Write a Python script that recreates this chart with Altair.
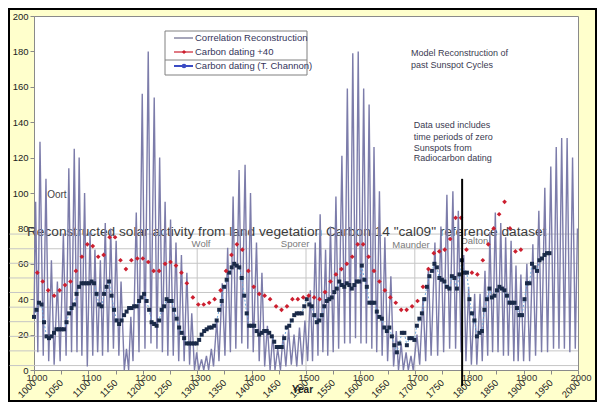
import altair as alt
import pandas as pd

# ---------------- data ----------------
# Correlation Reconstruction: cycle maxima and the minima between them
peak_years = [1003,1011,1022,1032,1043,1054,1064,1074,1083,1093, 1103,1112,1122,1131,1141,1151,1160,1170,1178,1188,
              1199,1210,1221,1231,1241,1251,1261,1271,1281,1290, 1299,1308,1317,1326,1336,1346,1356,1366,1377,1388,
              1398,1409,1419,1429,1439,1448,1458,1468,1478,1488, 1498,1508,1517,1526,1536,1545,1555,1566,1576,1586,
              1596,1606,1616,1625,1635,1645,1656,1666,1675,1684, 1693,1704,1715,1725,1737,1748,1759,1770,1780,1790,
              1799,1810,1820,1829,1838,1848,1858,1867,1877,1886, 1895,1906,1917,1928,1939,1950,1960,1970,1980,1990,
              1999]
peak_vals = [95,129,108,62,50,77,114,125,120,100, 78,68,62,83,80,73,50,12,30,89,
             156,180,154,120,95,85,72,65,55,32, 10,6,8,12,28,49,69,98,113,116,
             100,72,55,25,20,12,20,23,20,24, 28,45,72,88,68,81,98,121,159,179,
             180,159,150,126,101,75,53,22,15,10, 8,20,41,58,72,81,99,101,90,65,
             47,43,43,56,78,89,83,75,73,59, 54,60,71,90,103,115,126,131,131,120,
             80]
trough_years = [1007,1017,1027,1037,1048,1059,1069,1079,1088,1098, 1108,1117,1126,1136,1146,1156,1166,1174,1182,1193,
                1204,1215,1226,1236,1246,1256,1266,1276,1286,1295, 1303,1312,1321,1330,1340,1351,1361,1371,1382,1393,
                1403,1414,1424,1434,1443,1453,1463,1473,1483,1493, 1503,1512,1522,1531,1540,1550,1560,1571,1581,1591,
                1601,1611,1621,1630,1640,1650,1661,1670,1679,1688, 1697,1709,1720,1730,1742,1753,1764,1775,1785,1794,
                1804,1814,1824,1834,1843,1853,1863,1872,1882,1890, 1900,1911,1922,1933,1944,1955,1965,1975,1985,1995]
trough_vals = [10,8,5,3,5,8,10,10,8,2, 8,10,8,10,12,8,0,0,5,10,
               12,15,12,10,8,8,5,5,3,0, 0,0,0,2,5,8,10,12,15,12,
               10,5,2,0,0,0,2,3,2,3, 5,5,8,10,8,10,12,15,15,18,
               15,15,12,10,8,5,2,0,0,0, 0,3,5,8,8,10,12,12,10,5,
               3,3,5,8,10,10,8,8,5,5, 5,5,8,10,10,12,12,12,10,12]
start_year, start_val = 1000, 30

# Carbon dating (T. Channon)
blue_years = [
    1000.0,1004.6,1009.2,1013.8,1018.4, 1023.0,1027.6,1032.2,1036.8,1041.4,
    1046.0,1050.6,1055.2,1059.8,1064.4, 1069.0,1073.6,1078.2,1082.8,1087.4,
    1092.0,1096.6,1101.2,1105.8,1110.4, 1115.0,1119.6,1124.2,1128.8,1133.4,
    1138.0,1142.6,1147.2,1151.8,1156.4, 1161.0,1165.6,1170.2,1174.8,1179.4,
    1184.0,1188.6,1193.2,1197.8,1202.4, 1207.0,1211.6,1216.2,1220.8,1225.4,
    1230.0,1234.6,1239.2,1243.8,1248.4, 1253.0,1257.6,1262.2,1266.8,1271.4,
    1276.0,1280.6,1285.2,1289.8,1294.4, 1299.0,1303.6,1308.2,1312.8,1317.4,
    1322.0,1326.6,1331.2,1335.8,1340.4, 1345.0,1349.6,1354.2,1358.8,1363.4,
    1368.0,1372.6,1377.2,1381.8,1386.4, 1391.0,1395.6,1400.2,1404.8,1409.4,
    1414.0,1418.6,1423.2,1427.8,1432.4, 1437.0,1441.6,1446.2,1450.8,1455.4,
    1460.0,1464.6,1469.2,1473.8,1478.4, 1483.0,1487.6,1492.2,1496.8,1501.4,
    1506.0,1510.6,1515.2,1519.8,1524.4, 1529.0,1533.6,1538.2,1542.8,1547.4,
    1552.0,1556.6,1561.2,1565.8,1570.4, 1575.0,1579.6,1584.2,1588.8,1593.4,
    1598.0,1602.6,1607.2,1611.8,1616.4, 1621.0,1625.6,1630.2,1634.8,1639.4,
    1644.0,1648.6,1653.2,1657.8,1662.4, 1667.0,1671.6,1676.2,1680.8,1685.4,
    1690.0,1694.6,1699.2,1703.8,1708.4, 1713.0,1717.6,1722.2,1726.8,1731.4,
    1736.0,1740.6,1745.2,1749.8,1754.4, 1759.0,1763.6,1768.2,1772.8,1777.4,
    1782.0,1786.6,1791.2,1795.8,1800.4, 1805.0,1809.6,1814.2,1818.8,1823.4,
    1828.0,1832.6,1837.2,1841.8,1846.4, 1851.0,1855.6,1860.2,1864.8,1869.4,
    1874.0,1878.6,1883.2,1887.8,1892.4, 1897.0,1901.6,1906.2,1910.8,1915.4,
    1920.0,1924.6,1929.2,1933.8,1938.4, 1943.0,1947.6]
blue_vals = [
    30,34,38,37,27,19,18,19,21,23, 23,23,23,27,32,35,37,43,47,49,
    49,49,49,50,49,43,37,36,43,47, 50,42,34,28,26,28,31,33,35,35,
    36,36,39,41,43,39,34,27,26,25, 28,34,36,40,39,39,34,29,24,21,
    18,15,15,15,15,15,17,20,22,23, 24,24,25,28,34,39,47,51,55,58,
    60,59,58,52,42,32,25,25,25,22, 20,21,22,22,21,19,16,13,13,13,
    18,24,25,28,31,32,32,
    32,36,40,37,36,31,27,28,31,36, 39,40,41,44,46,50,48,47,49,48,
    46,48,50,50,59,51,47,38,38,38, 33,30,29,24,22,24,19,14,10,15,
    21,21,14,18,18,17,25,29,32,40, 47,53,56,60,58,52,51,50,47,46,
    53,52,46,54,62,55,55,40,32,28, 19,21,22,34,40,46,41,42,45,47,
    46,45,42,38,38,38,35,31,31,40, 49,49,60,58,56,62,63,65,66,66]

# Carbon dating +40
red_years = [1006,1016,1026,1037,1047,1057,1067,1077,1088,1098,1108,1118,1128,1139,1149,1159,
             1169,1179,1190,1200,1210,1220,1230,1241,1251,1261,1271,1281,1292,1302,1312,1322,
             1332,1343,1353,1363,1373,1383,1394,1404,1414,1424,1434,1445,1455,1465,1475,1485,
             1495,1505,1515,1525,1535,1545,1555,1565,1575,1585,1595,1605,1615,1625,1635,1645,
             1655,1665,1675,1685,1695,1705,1715,1725,1735,1745,1755,1765,1775,1785,1795,1805,
             1815,1825,1835,1845,1855,1865,1875,1885,1895]
red_vals = [55,50,45,42,45,48,50,56,64,71,70,64,65,75,75,62,
            57,62,63,63,61,56,56,60,61,59,55,49,41,37,37,38,
            40,45,56,65,71,68,56,47,43,42,40,36,34,36,40,40,
            41,42,41,40,44,50,54,57,60,64,71,71,64,56,50,45,
            41,38,34,34,36,39,47,57,66,67,68,74,86,86,68,55,
            54,62,71,80,88,95,80,67,68]

# background ("cal09" reference chart) elements
ref_grid_vals = [2.5, 10.8, 19.0, 27.3, 35.5, 43.8, 52.0, 60.3, 68.5, 76.8]
ref_vlines = [1300, 1500, 1700]
ref_tick_years = [1000, 1100, 1200, 1300, 1400, 1500, 1600, 1700, 1800, 1900, 2000]
minima_labels = ["Wolf", "Sporer", "Maunder", "Dalton"]
minima_years = [1307, 1480, 1693, 1810]
minima_vals = [71, 71, 70.5, 73]
ref_title = 'Reconstructed solar activity from land vegetation Carbon 14 "cal09" reference dataset'

note_lines = ["Model Reconstruction of", "past Sunspot Cycles",
              "Data used includes", "time periods of zero", "Sunspots from", "Radiocarbon dating"]
note_years = [1693, 1693, 1698, 1698, 1698, 1698]
note_vals = [179.1, 172.3, 138.4, 131.9, 125.7, 119.5]

legend_labels = ["Correlation Reconstruction", "Carbon dating +40", "Carbon dating (T. Channon)"]

FONT = "Liberation Sans"

# ---------------- build ----------------
corr_years, corr_vals = [start_year], [start_val]
for py, pv, ty, tv in zip(peak_years, peak_vals, trough_years + [None], trough_vals + [None]):
    corr_years.append(py); corr_vals.append(pv)
    if ty is not None:
        corr_years.append(ty); corr_vals.append(tv)

xs = alt.Scale(domain=[1000, 2000], nice=False, zero=False)
ys = alt.Scale(domain=[0, 200], nice=False, zero=False)
x_axis = alt.Axis(values=list(range(1000, 2001, 50)), format="d", labelAngle=-45, labelAlign="right",
                  labelBaseline="middle", labelPadding=7, tickSize=4, labelOverlap=False, labelFlush=False,
                  title="Year", titleX=268, titleY=19, titleBaseline="middle", titleFontWeight="bold",
                  titleFontSize=10, titleColor="#222222", grid=False)
y_axis = alt.Axis(values=list(range(0, 201, 20)), tickSize=4, labelPadding=2, grid=False, title=None,
                  labelFlush=False)


def X(f="year"):
    return alt.X(f"{f}:Q", scale=xs, axis=x_axis)


def Y(f="value"):
    return alt.Y(f"{f}:Q", scale=ys, axis=y_axis)


one = pd.DataFrame({"k": [0]})
layers = []

# outer black frame
layers.append(alt.Chart(one).mark_rect(fill="transparent", stroke="black", strokeWidth=2).encode(
    x=alt.value(-25), x2=alt.value(562), y=alt.value(-7), y2=alt.value(385)))

# reference chart grid
gdf = pd.DataFrame({"year": [955] * len(ref_grid_vals), "year2": [2000] * len(ref_grid_vals), "value": ref_grid_vals})
layers.append(alt.Chart(gdf).mark_rule(color="#c6c6c6", strokeWidth=1).encode(x=X(), x2="year2:Q", y=Y()))
vdf = pd.DataFrame({"year": ref_vlines, "value": [0] * 3, "value2": [69] * 3})
layers.append(alt.Chart(vdf).mark_rule(color="#c6c6c6", strokeWidth=1).encode(x=X(), y=Y(), y2="value2:Q"))

# reference chart texts
tdf = pd.DataFrame({"year": [987], "value": [78], "label": [ref_title]})
layers.append(alt.Chart(tdf).mark_text(align="left", baseline="middle", fontSize=13.7, color="#3c3c3c", font=FONT)
              .encode(x=X(), y=Y(), text="label:N"))
mdf = pd.DataFrame({"year": minima_years, "value": minima_vals, "label": minima_labels})
layers.append(alt.Chart(mdf).mark_text(baseline="middle", fontSize=9.5, color="#7a7a7a", font=FONT)
              .encode(x=X(), y=Y(), text="label:N"))
odf = pd.DataFrame({"year": [1042], "value": [99], "label": ["Oort"]})
layers.append(alt.Chart(odf).mark_text(baseline="middle", fontSize=10, color="#444444", font=FONT)
              .encode(x=X(), y=Y(), text="label:N"))
rdf = pd.DataFrame({"year": ref_tick_years, "value": [-4.5] * len(ref_tick_years),
                    "label": [str(v) for v in ref_tick_years]})
layers.append(alt.Chart(rdf).mark_text(baseline="middle", fontSize=9.5, color="#333333", font=FONT, dx=3)
              .encode(x=X(), y=Y(), text="label:N"))

# main series
cdf = pd.DataFrame({"year": corr_years, "value": corr_vals})
layers.append(alt.Chart(cdf).mark_line(color="#7c7caa", strokeWidth=1.4).encode(x=X(), y=Y()))
bdf = pd.DataFrame({"year": blue_years, "value": blue_vals})
layers.append(alt.Chart(bdf).mark_line(color="#6fa8dc", strokeWidth=1, strokeDash=[2, 2]).encode(x=X(), y=Y()))
layers.append(alt.Chart(bdf).mark_square(size=16, color="#1a2a48", opacity=1).encode(x=X(), y=Y()))
redf = pd.DataFrame({"year": red_years, "value": red_vals})
layers.append(alt.Chart(redf).mark_point(shape="diamond", filled=True, size=22, color="#cc1f2f", opacity=1)
              .encode(x=X(), y=Y()))

# black marker line
kdf = pd.DataFrame({"year": [1787], "value": [108], "value2": [-9]})
layers.append(alt.Chart(kdf).mark_rule(color="black", strokeWidth=2).encode(x=X(), y=Y(), y2="value2:Q"))

# legend box
layers.append(alt.Chart(one).mark_rect(fill="white", stroke="#808080", strokeWidth=1).encode(
    x=alt.value(131), x2=alt.value(273), y=alt.value(15), y2=alt.value(59)))
layers.append(alt.Chart(one).mark_rule(color="#808080", strokeWidth=1).encode(
    x=alt.value(131), x2=alt.value(273), y=alt.value(44)))
layers.append(alt.Chart(one).mark_rule(color="#4d4d75", strokeWidth=1).encode(
    x=alt.value(140), x2=alt.value(159), y=alt.value(22)))
layers.append(alt.Chart(one).mark_rule(color="#cc1f2f", strokeWidth=1.2).encode(
    x=alt.value(140), x2=alt.value(159), y=alt.value(36)))
layers.append(alt.Chart(one).mark_point(shape="diamond", filled=True, size=18, color="#cc1f2f", opacity=1).encode(
    x=alt.value(150), y=alt.value(36)))
layers.append(alt.Chart(one).mark_rule(color="#3b4bc4", strokeWidth=2).encode(
    x=alt.value(140), x2=alt.value(159), y=alt.value(50)))
layers.append(alt.Chart(one).mark_circle(size=22, color="#3b4bc4", opacity=1).encode(
    x=alt.value(150), y=alt.value(50)))
ldf = pd.DataFrame({"px": [161, 161, 161], "py": [22, 36, 50], "label": legend_labels})
layers.append(alt.Chart(ldf).mark_text(align="left", baseline="middle", fontSize=9.5, color="#34345a", font=FONT)
              .encode(x=alt.X("px:Q", scale=None), y=alt.Y("py:Q", scale=None), text="label:N"))

# annotations
ndf = pd.DataFrame({"year": note_years, "value": note_vals, "label": note_lines})
layers.append(alt.Chart(ndf).mark_text(align="left", baseline="middle", fontSize=9, color="#3a3a50", font=FONT)
              .encode(x=X(), y=Y(), text="label:N"))

chart = alt.layer(*layers).properties(
    width=544, height=354,
    autosize=alt.AutoSizeParams(type="none"),
    padding={"left": 26, "top": 8, "right": 19, "bottom": 32},
).configure(background="#ffffcc").configure_view(fill="white", stroke="#8a8a8a", strokeWidth=1).configure_axis(
    domainColor="#8a8a8a", tickColor="#8a8a8a", labelColor="#222222", labelFont=FONT, labelFontSize=9.5,
    titleFont=FONT)

chart.save("out.html", embed_options={"renderer": "svg", "actions": False})
